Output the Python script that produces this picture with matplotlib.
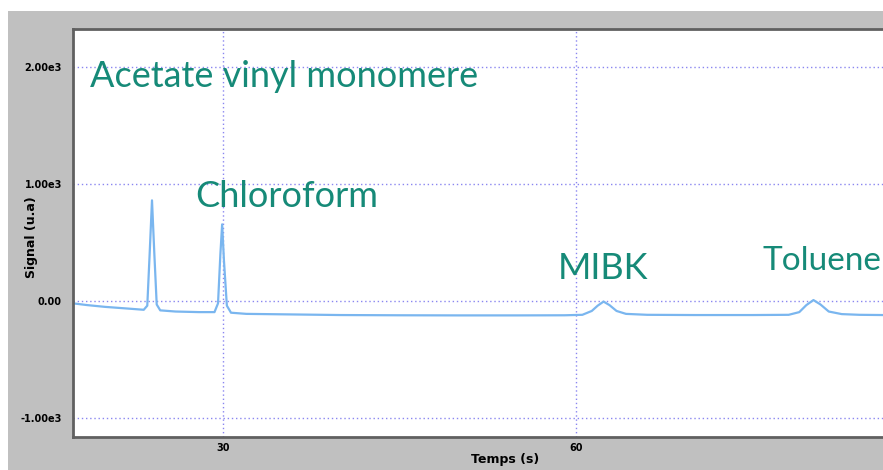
import matplotlib
matplotlib.use("Agg")
import matplotlib.pyplot as plt
from matplotlib.patches import Rectangle

# chromatogram trace (time in s, signal in u.a)
temps = [17.3, 18.5, 20.0, 22.0, 23.3, 23.6, 23.8, 24.0, 24.2, 24.4, 24.7,
         26.0, 28.0, 29.3, 29.6, 29.8, 29.95, 30.1, 30.35, 30.7, 32.0, 36.0,
         40.0, 45.0, 50.0, 55.0, 59.0, 60.5, 61.3, 61.8, 62.3, 62.8, 63.4,
         64.2, 66.0, 70.0, 75.0, 78.0, 78.9, 79.5, 80.1, 80.7, 81.4, 82.5,
         84.0, 86.0]
signal = [-20, -35, -50, -65, -75, -40, 400, 860, 400, -30, -80,
          -90, -95, -95, -20, 400, 655, 350, -40, -100, -110, -115,
          -120, -122, -123, -123, -122, -118, -85, -40, -5, -35, -85,
          -110, -118, -120, -120, -118, -95, -35, 8, -30, -90, -112,
          -118, -120]

labels = ["Acetate vinyl monomere", "Chloroform", "MIBK", "Toluene"]
label_x = [18.7, 27.7, 58.4, 75.8]
label_y = [1830, 800, 185, 262]

yticks = [-1000, 0, 1000, 2000]
ytick_labels = ["-1.00e3", "0.00", "1.00e3", "2.00e3"]
xticks = [30, 60]

fig = plt.figure(figsize=(8.83, 4.70), dpi=100, facecolor="white")
bg = Rectangle((8 / 883, 0), 1, 1 - 11 / 470, transform=fig.transFigure,
               facecolor="#c0c0c0", edgecolor="none", zorder=-10)
fig.add_artist(bg)
ax = fig.add_axes([73 / 883, 33 / 470, 1 - 73 / 883, (437 - 29) / 470])
ax.set_zorder(1)
ax.set_facecolor("white")

ax.plot(temps, signal, color="#7ab6ef", linewidth=1.6)

ax.set_xlim(17.3, 86)
ax.set_ylim(-1162, 2324)
ax.set_xticks(xticks)
ax.set_xticklabels([str(t) for t in xticks], fontsize=7, fontweight="bold")
ax.set_yticks(yticks)
ax.set_yticklabels(ytick_labels, fontsize=7, fontweight="bold")
ax.tick_params(axis="y", length=0, pad=8)
ax.tick_params(axis="x", length=0, pad=4)
ax.grid(True, color="#8a86f0", linestyle=(0, (1, 2)), linewidth=1)

for side in ["left", "bottom", "top"]:
    ax.spines[side].set_color("#606060")
    ax.spines[side].set_linewidth(2)
ax.spines["right"].set_visible(False)

for txt, x, y in zip(labels, label_x, label_y):
    # the last label sits against the right edge, keep it inside the figure
    size = 24 if txt == "Toluene" else 26
    ax.text(x, y, txt, color="#168a78", fontsize=size, family="Lato", va="baseline")

ax.set_xlabel("Temps (s)", fontsize=9, fontweight="bold")
ax.xaxis.set_label_coords((505 - 73) / 810, -(453 - 437) / 408)
ax.set_ylabel("Signal (u.a)", fontsize=9, fontweight="bold")
ax.yaxis.set_label_coords(-(73 - 38) / 810, 0.49)

fig.savefig("out.png", dpi=100)
